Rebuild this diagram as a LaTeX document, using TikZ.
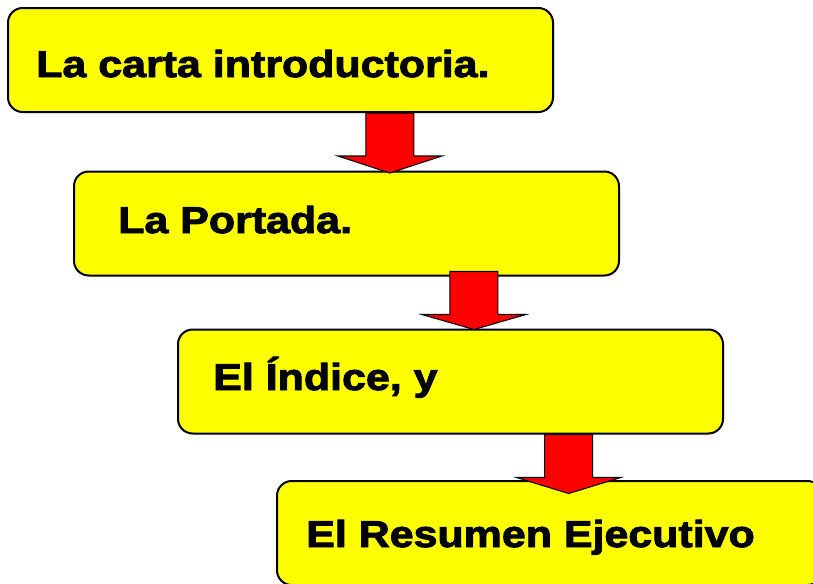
\documentclass[tikz,border=0pt]{standalone}
\usepackage{fontspec}
\usetikzlibrary{calc}
\newfontfamily\negra{Liberation Sans}[BoldFeatures={FakeBold=2.5,FakeStretch=1.15}]
\definecolor{amarillo}{RGB}{255,255,0}
\definecolor{rojo}{RGB}{255,0,0}

\begin{document}
\begin{tikzpicture}[x=0.75pt,y=-0.75pt,
    caja/.style={draw,line width=1.5pt,fill=amarillo,rounded corners=11pt,
        minimum width=408.75pt,minimum height=78pt,inner sep=0pt},
    texto/.style={font=\negra\bfseries\fontsize{28}{32}\selectfont,
        inner sep=0pt,anchor=base west},
    flecha/.style={draw,fill=rojo,line width=0.8pt,line join=miter}]

    \useasboundingbox (0,0) rectangle (813,583);

    % cajas
    \node[caja] (carta) at (280.5,60) {};
    \node[caja] (portada) at (346.5,223.5) {};
    \node[caja] (indice) at (450.5,381.5) {};
    \node[caja] (resumen) at (549.5,533) {};

    \node[texto] (tcarta) at (36,77) {La carta introductoria.};
    \node[texto] (tportada) at (118,233) {La Portada.};
    \node[texto] (tindice) at (213,390) {El Índice, y};
    \node[texto] (tresumen) at (306,547) {El Resumen Ejecutivo};

    % flechas
    \coordinate (s1) at ($(carta.south west)!0.7!(carta.south east)$);
    \coordinate (s2) at ($(portada.south west)!0.733!(portada.south east)$);
    \coordinate (s3) at ($(indice.south west)!0.716!(indice.south east)$);
    \draw[flecha] (s1) ++(-24,0) -- ++(0,43) -- ++(-28,0) -- ++(52,17)
        -- ++(52,-17) -- ++(-28,0) -- ++(0,-43) -- cycle;
    \draw[flecha] (s2) ++(-24,-5) -- ++(0,43) -- ++(-28,0) -- ++(52,15)
        -- ++(52,-15) -- ++(-28,0) -- ++(0,-43) -- cycle;
    \draw[flecha] (s3) ++(-24,0) -- ++(0,43) -- ++(-28,0) -- ++(52,16)
        -- ++(52,-16) -- ++(-28,0) -- ++(0,-43) -- cycle;

\end{tikzpicture}
\end{document}
